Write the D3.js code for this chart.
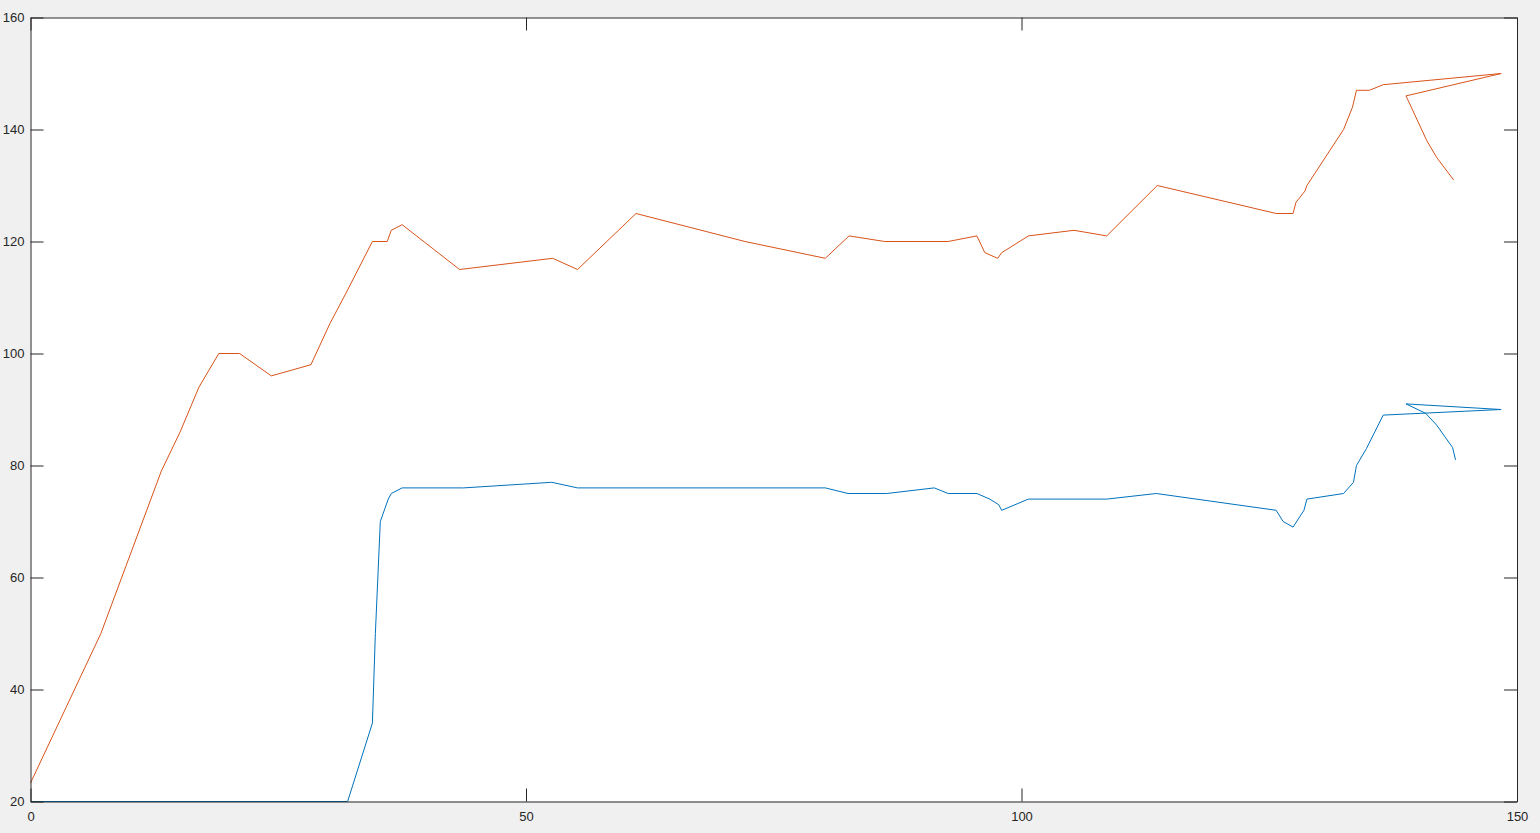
<!DOCTYPE html>
<html>
<head>
<meta charset="utf-8">
<script src="https://cdn.jsdelivr.net/npm/d3@7"></script>
<style>
  html, body { margin: 0; padding: 0; background: #f0f0f0; }
  svg { display: block; }
  .tick text { font-family: "Liberation Sans", Arial, sans-serif; font-size: 13px; fill: #262626; }
</style>
</head>
<body>
<svg id="chart" width="1540" height="833"></svg>
<script>
// ---- data ----
const xTicks = [0, 50, 100, 150];
const yTicks = [20, 40, 60, 80, 100, 120, 140, 160];

const orangeX = [0, 7.1, 13.2, 15.1, 17, 19, 21.1, 24.3, 28.3, 30.2, 31.9, 34.5, 36, 36.4, 37.5, 43.3, 52.7, 55.2, 61.1, 72.1, 80.2, 82.6, 86.2, 92.6, 95.5, 96.3, 97.6, 98, 100.7, 105.3, 108.6, 113.7, 125.7, 127.4, 127.7, 128.6, 128.8, 132.5, 133.4, 133.8, 135.1, 136.5, 148.4, 138.8, 140.9, 141.9, 143.6];
const orangeY = [23.3, 50, 79, 86, 94, 100, 100, 96, 98, 105.3, 111, 120, 120, 122, 123, 115, 117, 115, 125, 120, 117, 121, 120, 120, 121, 118, 117, 118, 121, 122, 121, 130, 125, 125, 127, 129, 130, 140, 144, 147, 147, 148, 150, 146, 138, 135, 131];

const blueX = [0, 32, 34.5, 34.8, 35.3, 36.1, 36.4, 37.5, 43.7, 52.6, 55.2, 80.2, 82.5, 86.4, 91.2, 92.6, 95.5, 96.8, 97.7, 98, 100.7, 108.6, 113.6, 125.7, 126.4, 127.4, 128.5, 128.8, 132.5, 133.5, 133.8, 134.8, 136.5, 148.4, 138.8, 140.8, 141.9, 143.5, 143.8];
const blueY = [20, 20, 34, 50, 70, 74, 75, 76, 76, 77, 76, 76, 75, 75, 76, 75, 75, 74, 73, 72, 74, 74, 75, 72, 70, 69, 72, 74, 75, 77, 80, 83, 89, 90, 91, 89.3, 87.2, 83.2, 81];

// ---- layout ----
const svg = d3.select("#chart");
const L = 30.5, R = 1517, T = 17.5, B = 801.5;
const x = d3.scaleLinear().domain([0, 150]).range([L, R]);
const y = d3.scaleLinear().domain([20, 160]).range([B, T]);
const axisColor = "#262626";
const tickLen = 13;

svg.append("rect").attr("x", L).attr("y", T).attr("width", R - L).attr("height", B - T).attr("fill", "#ffffff");

const line = d3.line().x(d => x(d[0])).y(d => y(d[1]));

function series(xs, ys) { return xs.map((v, i) => [v, ys[i]]); }

svg.append("path").datum(series(orangeX, orangeY))
  .attr("d", line).attr("fill", "none").attr("stroke", "#D95319").attr("stroke-width", 1);
svg.append("path").datum(series(blueX, blueY))
  .attr("d", line).attr("fill", "none").attr("stroke", "#0072BD").attr("stroke-width", 1);

function styleAxis(g) {
  g.selectAll(".domain").attr("stroke", axisColor).attr("stroke-width", 1);
  g.selectAll(".tick line").attr("stroke", axisColor).attr("stroke-width", 1);
}

svg.append("g").attr("transform", `translate(0,${B})`)
  .call(d3.axisBottom(x).tickValues(xTicks).tickSizeInner(-tickLen).tickSizeOuter(0).tickPadding(10).tickFormat(d3.format("d")))
  .call(styleAxis);
svg.append("g").attr("transform", `translate(0,${T})`)
  .call(d3.axisTop(x).tickValues(xTicks).tickSizeInner(-tickLen).tickSizeOuter(0).tickFormat(""))
  .call(styleAxis);
svg.append("g").attr("transform", `translate(${L},0)`)
  .call(d3.axisLeft(y).tickValues(yTicks).tickSizeInner(-tickLen).tickSizeOuter(0).tickPadding(6).tickFormat(d3.format("d")))
  .call(styleAxis);
svg.append("g").attr("transform", `translate(${R},0)`)
  .call(d3.axisRight(y).tickValues(yTicks).tickSizeInner(-tickLen).tickSizeOuter(0).tickFormat(""))
  .call(styleAxis);

svg.selectAll(".tick text").attr("fill", axisColor);
</script>
</body>
</html>
